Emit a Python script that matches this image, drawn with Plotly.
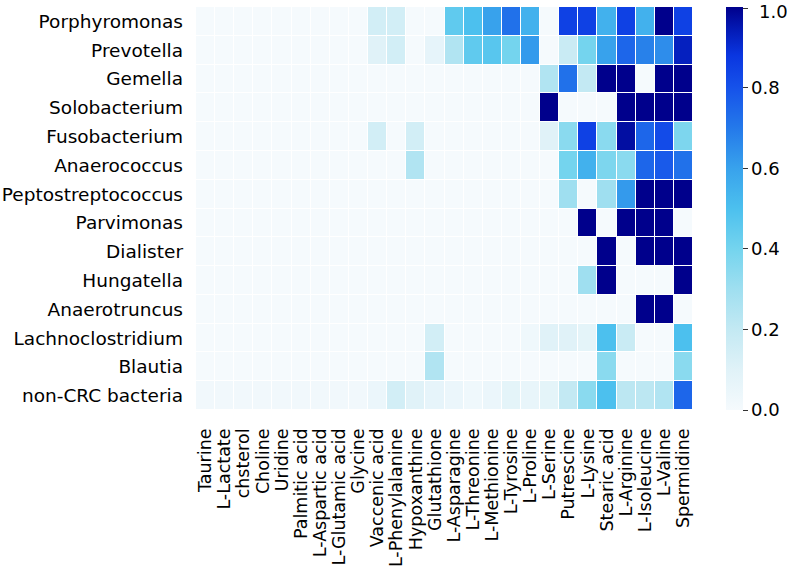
import plotly.graph_objects as go

bacteria = ["Porphyromonas", "Prevotella", "Gemella", "Solobacterium", "Fusobacterium",
            "Anaerococcus", "Peptostreptococcus", "Parvimonas", "Dialister", "Hungatella",
            "Anaerotruncus", "Lachnoclostridium", "Blautia", "non-CRC bacteria"]

metabolites = ["Taurine", "L-Lactate", "chsterol", "Choline", "Uridine", "Palmitic acid",
               "L-Aspartic acid", "L-Glutamic acid", "Glycine", "Vaccenic acid",
               "L-Phenylalanine", "Hypoxanthine", "Glutathione", "L-Asparagine",
               "L-Threonine", "L-Methionine", "L-Tyrosine", "L-Proline", "L-Serine",
               "Putrescine", "L-Lysine", "Stearic acid", "L-Arginine", "L-Isoleucine",
               "L-Valine", "Spermidine"]

#                 Tau  Lac  chs  Cho  Uri  Pal  Asp  Glu  Gly  Vac  Phe  Hyp  Gsh  Asn  Thr  Met  Tyr  Pro  Ser  Put  Lys  Ste  Arg  Ile  Val  Spd
porphyromonas   = [0,   0,   0,   0,   0,   0,   0,   0,   0,   .15, .15, 0,   0,   .45, .50, .60, .72, .55, 0,   .85, .85, .55, .85, .55, 1.0, .85]
prevotella      = [0,   0,   0,   0,   0,   0,   0,   0,   0,   .10, .15, 0,   .07, .25, .45, .47, .40, .62, 0,   .18, .40, .60, .75, .68, .65, .93]
gemella         = [0,   0,   0,   0,   0,   0,   0,   0,   0,   0,   0,   0,   0,   0,   0,   0,   0,   0,   .25, .72, .20, 1.0, 1.0, 0,   1.0, 1.0]
solobacterium   = [0,   0,   0,   0,   0,   0,   0,   0,   0,   0,   0,   0,   0,   0,   0,   0,   0,   0,   1.0, 0,   0,   0,   1.0, 1.0, 1.0, 1.0]
fusobacterium   = [0,   0,   0,   0,   0,   0,   0,   0,   0,   .15, 0,   .15, 0,   0,   0,   0,   0,   0,   .10, .35, .85, .35, .97, .75, .82, .38]
anaerococcus    = [0,   0,   0,   0,   0,   0,   0,   0,   0,   0,   0,   .25, 0,   0,   0,   0,   0,   0,   0,   .40, .55, .38, .35, .75, .78, .72]
peptostrepto    = [0,   0,   0,   0,   0,   0,   0,   0,   0,   0,   0,   0,   0,   0,   0,   0,   0,   0,   0,   .30, 0,   .30, .62, 1.0, 1.0, 1.0]
parvimonas      = [0,   0,   0,   0,   0,   0,   0,   0,   0,   0,   0,   0,   0,   0,   0,   0,   0,   0,   0,   0,   1.0, 0,   1.0, 1.0, 1.0, 0]
dialister       = [0,   0,   0,   0,   0,   0,   0,   0,   0,   0,   0,   0,   0,   0,   0,   0,   0,   0,   0,   0,   0,   1.0, 0,   1.0, 1.0, 1.0]
hungatella      = [0,   0,   0,   0,   0,   0,   0,   0,   0,   0,   0,   0,   0,   0,   0,   0,   0,   0,   0,   0,   .30, 1.0, 0,   0,   0,   1.0]
anaerotruncus   = [0,   0,   0,   0,   0,   0,   0,   0,   0,   0,   0,   0,   0,   0,   0,   0,   0,   0,   0,   0,   0,   0,   0,   1.0, 1.0, 0]
lachnoclostr    = [0,   0,   0,   0,   0,   0,   0,   0,   0,   0,   0,   0,   .15, 0,   0,   0,   0,   .03, .10, .10, .08, .50, .18, 0,   0,   .50]
blautia         = [0,   0,   0,   0,   0,   0,   0,   0,   0,   0,   0,   0,   .25, 0,   0,   0,   0,   0,   0,   0,   0,   .35, 0,   0,   0,   .35]
non_crc         = [.02, .02, .02, .02, .02, .02, .02, .02, .02, .05, .15, .10, .07, .05, .03, .05, .08, .06, .08, .20, .35, .50, .22, .22, .25, .75]

z = [porphyromonas, prevotella, gemella, solobacterium, fusobacterium, anaerococcus,
     peptostrepto, parvimonas, dialister, hungatella, anaerotruncus, lachnoclostr,
     blautia, non_crc]

cbar_vals = [0, 0.2, 0.4, 0.6, 0.8, 0.996]
cbar_text = ["0.0", "0.2", "0.4", "0.6", "0.8", ""]
cbar_top_label = "1.0"

colorscale = [
    [0.0, "#f5fafd"], [0.1, "#e0f2f8"], [0.2, "#c3e9f3"], [0.3, "#9fdff0"],
    [0.4, "#74d4ee"], [0.5, "#4cc0ee"], [0.6, "#38a2ec"], [0.7, "#2479ea"],
    [0.8, "#1652ea"], [0.88, "#0a36e0"], [0.94, "#041cb8"], [1.0, "#00008c"],
]

fig = go.Figure(go.Heatmap(
    z=z, x=metabolites, y=bacteria, zmin=0, zmax=1,
    colorscale=colorscale, xgap=1, ygap=1,
    colorbar=dict(
        x=1.0664, xanchor="left", y=0.5, yanchor="middle", len=1.0,
        thickness=17, outlinewidth=0, ypad=0, xpad=0,
        tickvals=cbar_vals, ticktext=cbar_text,
        ticks="outside", ticklen=5, tickcolor="#333",
        tickfont=dict(family="DejaVu Sans", size=18, color="black"),
    ),
))

fig.add_annotation(
    text=cbar_top_label, xref="paper", yref="paper", x=1.128, y=1.0,
    xanchor="left", yanchor="middle", yshift=-4, showarrow=False,
    font=dict(family="DejaVu Sans", size=18, color="black"),
)

fig.update_layout(
    width=787, height=571,
    margin=dict(l=196, r=94, t=7, b=161, autoexpand=False),
    plot_bgcolor="white", paper_bgcolor="white",
    font=dict(family="DejaVu Sans", size=18, color="black"),
)
fig.update_xaxes(tickangle=-90, showgrid=False, zeroline=False, ticks="",
                 tickmode="array", tickvals=metabolites, ticktext=metabolites,
                 automargin=False, ticklabelstandoff=14, tickfont=dict(size=17.5))
fig.update_yaxes(autorange="reversed", showgrid=False, zeroline=False, ticks="",
                 automargin=False, ticklabelstandoff=12, tickfont=dict(size=18.5))

fig.write_html("out.html", config={"displayModeBar": False},
               post_script="document.body.style.margin='0px';document.body.style.overflow='hidden';")
